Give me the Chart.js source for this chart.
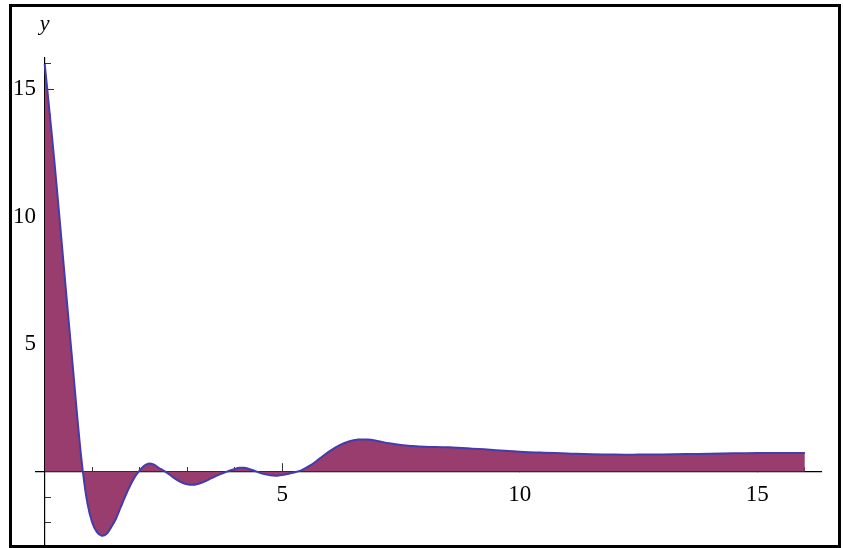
<!DOCTYPE html>
<html>
<head>
<meta charset="utf-8">
<script src="https://cdn.jsdelivr.net/npm/chart.js@4/dist/chart.umd.min.js"></script>
<style>
  html, body { margin: 0; padding: 0; background: #fff; }
  #wrap { position: relative; width: 843px; height: 548px; overflow: hidden; }
  #c { position: absolute; left: 0; top: 0; }
  #frame { position: absolute; left: 9px; top: 4px; width: 832px; height: 544px;
           box-sizing: border-box; border: 3px solid #000; pointer-events: none; }
</style>
</head>
<body>
<div id="wrap">
  <canvas id="c" width="843" height="548"></canvas>
  <div id="frame"></div>
</div>
<script>
// Sampled curve: x positions and the corresponding y values
const xValues = [0, 0.1, 0.2, 0.3, 0.4, 0.5, 0.6, 0.7, 0.8, 0.9, 1.0, 1.1, 1.2, 1.3, 1.4, 1.5, 1.6, 1.7, 1.8, 1.9,
  2.0, 2.1, 2.2, 2.3, 2.4, 2.5, 2.6, 2.7, 2.8, 2.9, 3.0, 3.1, 3.2, 3.3, 3.4, 3.5, 3.6, 3.7, 3.8, 3.9,
  4.0, 4.1, 4.2, 4.3, 4.4, 4.5, 4.6, 4.7, 4.8, 4.9, 5.0, 5.1, 5.2, 5.3, 5.4, 5.6, 5.8, 6.0, 6.2, 6.4,
  6.6, 6.8, 7.0, 7.25, 7.5, 7.75, 8.0, 8.5, 9.0, 9.5, 10, 10.5, 11, 11.5, 12, 12.5, 13, 13.5, 14,
  14.5, 15, 15.5, 16];
const yValues = [16.0, 14.15, 12.25, 10.2, 8.1, 6.0, 3.95, 1.85, 0.05, -1.25, -2.0, -2.38, -2.52, -2.45, -2.18, -1.85, -1.4, -0.95, -0.55, -0.2,
  0.05, 0.24, 0.32, 0.27, 0.15, 0.04, -0.08, -0.22, -0.35, -0.44, -0.5, -0.52, -0.5, -0.44, -0.36, -0.27, -0.18, -0.1, -0.03, 0.04,
  0.1, 0.145, 0.15, 0.1, 0.04, -0.03, -0.09, -0.13, -0.155, -0.16, -0.14, -0.1, -0.06, -0.01, 0.05, 0.25, 0.53, 0.8, 1.03, 1.18,
  1.255, 1.255, 1.2, 1.11, 1.04, 1.0, 0.975, 0.95, 0.9, 0.84, 0.78, 0.74, 0.71, 0.68, 0.665, 0.665, 0.67, 0.685, 0.70,
  0.715, 0.725, 0.73, 0.73];

// Axis ranges and tick steps
const xRange = [-0.185, 16.34];
const yRange = [-3.0, 16.23];
const majorStep = 5;
const minorStep = 1;
const axisTitle = 'y';

const points = xValues.map((x, i) => ({ x: x, y: yValues[i] }));
const labelFont = { family: '"Liberation Serif", "Times New Roman", serif', size: 23 };

function zeroPadding(scale) {
  scale.paddingLeft = 0; scale.paddingRight = 0;
  scale.paddingTop = 0; scale.paddingBottom = 0;
}
function hideZero(v) { return v === 0 ? '' : String(v); }

// Draws the italic axis name above the vertical axis
const axisNamePlugin = {
  id: 'axisName',
  afterDraw(chart) {
    const ctx = chart.ctx;
    const xs = chart.scales.x;
    ctx.save();
    ctx.font = 'italic 22px "Liberation Serif", "Times New Roman", serif';
    ctx.fillStyle = '#000';
    ctx.textAlign = 'center';
    ctx.textBaseline = 'alphabetic';
    ctx.fillText(axisTitle, xs.getPixelForValue(0), 30);
    ctx.restore();
  }
};

new Chart(document.getElementById('c'), {
  type: 'line',
  data: {
    datasets: [{
      data: points,
      xAxisID: 'x',
      yAxisID: 'y',
      borderColor: 'rgb(68,60,172)',
      borderWidth: 2,
      backgroundColor: 'rgb(152,61,110)',
      fill: 'origin',
      tension: 0.4,
      pointRadius: 0
    }]
  },
  options: {
    responsive: false,
    devicePixelRatio: 1,
    animation: false,
    layout: { padding: { left: 0, top: 58, right: 22, bottom: 0 } },
    plugins: { legend: { display: false }, tooltip: { enabled: false } },
    scales: {
      x: {
        type: 'linear', min: xRange[0], max: xRange[1],
        position: { y: 0 },
        grid: { display: true, drawOnChartArea: false, drawTicks: true, tickLength: -9, tickColor: '#333', tickWidth: 1 },
        border: { display: true, color: '#000', width: 1.2 },
        ticks: { stepSize: majorStep, includeBounds: false, padding: 19, color: '#000', font: labelFont,
                  maxRotation: 0, autoSkip: false, callback: hideZero },
        afterFit: zeroPadding
      },
      xMinor: {
        type: 'linear', min: xRange[0], max: xRange[1],
        position: { y: 0 },
        grid: { display: true, drawOnChartArea: false, drawTicks: true, tickLength: -5, tickColor: '#333', tickWidth: 1 },
        border: { display: false },
        ticks: { stepSize: minorStep, includeBounds: false, display: false, autoSkip: false },
        afterFit: zeroPadding
      },
      y: {
        type: 'linear', min: yRange[0], max: yRange[1],
        position: { x: 0 },
        grid: { display: true, drawOnChartArea: false, drawTicks: true, tickLength: -10, tickColor: '#333', tickWidth: 1 },
        border: { display: true, color: '#000', width: 1.2 },
        ticks: { stepSize: majorStep, includeBounds: false, display: false, autoSkip: false },
        afterFit: zeroPadding
      },
      yMinor: {
        type: 'linear', min: yRange[0], max: yRange[1],
        position: { x: 0 },
        grid: { display: true, drawOnChartArea: false, drawTicks: true, tickLength: -6, tickColor: '#333', tickWidth: 1 },
        border: { display: false },
        ticks: { stepSize: minorStep, includeBounds: false, display: false, autoSkip: false },
        afterFit: zeroPadding
      },
      yLabels: {
        type: 'linear', min: yRange[0], max: yRange[1],
        position: 'left',
        grid: { display: false, drawTicks: false },
        border: { display: false },
        ticks: { stepSize: majorStep, includeBounds: false, padding: 0, color: '#000', font: labelFont,
                 autoSkip: false, callback: hideZero },
        afterFit(scale) { scale.width = 35.9; zeroPadding(scale); }
      }
    }
  },
  plugins: [axisNamePlugin]
});
</script>
</body>
</html>
